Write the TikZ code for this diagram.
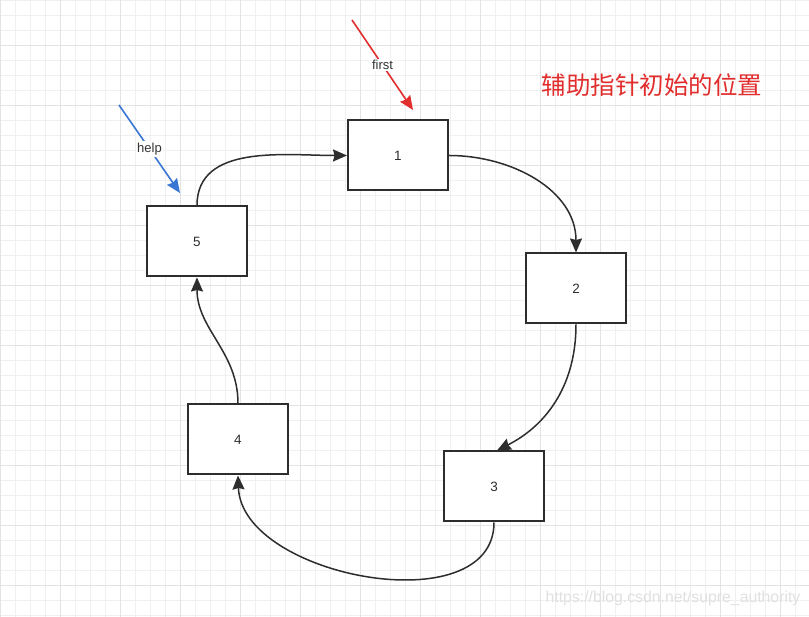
\documentclass[tikz,border=0pt]{standalone}
\usepackage{fontspec}
\setmainfont{Liberation Sans}
\newfontfamily\cjkfont{Noto Sans CJK SC}
\usetikzlibrary{arrows.meta}

\definecolor{ptrred}{RGB}{226,45,45}
\definecolor{ptrblue}{RGB}{58,118,212}
\definecolor{boxline}{RGB}{45,45,45}

\begin{document}
\begin{tikzpicture}[
	x=1pt, y=1pt,
	gridminor/.style={draw=black!6, line width=0.8pt},
	gridmajor/.style={draw=black!11, line width=0.8pt},
	block/.style={rectangle, draw=boxline, fill=white, line width=2pt, minimum width=100pt, minimum height=70pt, inner sep=0pt, font=\fontsize{13.5}{15}\selectfont, text=boxline},
	arrow/.style={-{Stealth[length=14pt, width=12pt, inset=1.5pt]}, line width=1.5pt, draw=boxline},
	pointer/.style={-{Stealth[length=14pt, width=12pt, inset=1.5pt]}, line width=1.6pt},
	ptrlabel/.style={fill=white, inner sep=1.5pt, font=\fontsize{13}{15}\selectfont, text=black!80}
]
	% Background grid
	\useasboundingbox (0,0) rectangle (809,617);
	\fill[white] (0,0) rectangle (809,617);
	\foreach \gx in {0,15,...,809} \draw[gridminor] (\gx,0) -- (\gx,617);
	\foreach \gy in {2,17,...,617} \draw[gridminor] (0,\gy) -- (809,\gy);
	\foreach \gx in {0,60,...,780} \draw[gridmajor] (\gx,0) -- (\gx,617);
	\foreach \gy in {32,92,...,572} \draw[gridmajor] (0,\gy) -- (809,\gy);

	% Ring nodes
	\node[block] (n1) at (398,461.5) {1};
	\node[block] (n2) at (576,328.5) {2};
	\node[block] (n3) at (494,130.5) {3};
	\node[block] (n4) at (238,177.5) {4};
	\node[block] (n5) at (197,375.5) {5};

	% Arrows
	\draw[arrow] (n1.east) to[out=0, in=90] (n2.north);
	\draw[arrow] (n2.south) to[out=-90, in=27] ([xshift=3pt]n3.north);
	\draw[arrow] (n3.south) to[out=-90, in=-88] (n4.south);
	\draw[arrow] (n4.north) to[out=90, in=-90] (n5.south);
	\draw[arrow] (n5.north) to[out=90, in=180] (n1.west);

	% Pointers
	\coordinate (firstTail) at (352,597);
	\coordinate (firstHead) at (413,507);
	\coordinate (helpTail) at (119,512);
	\coordinate (helpHead) at (180,424);
	\draw[pointer, draw=ptrred, fill=ptrred] (firstTail) -- node[ptrlabel] (firstLbl) {first} (firstHead);
	\draw[pointer, draw=ptrblue, fill=ptrblue] (helpTail) -- node[ptrlabel] (helpLbl) {help} (helpHead);

	% Labels
	\node[font=\cjkfont\fontsize{24.5}{28}\selectfont, text=ptrred] (title) at (652,532) {辅助指针初始的位置};
	\node[font=\fontsize{15.8}{18}\selectfont, text=black!12] (mark) at (673,19) {https://blog.csdn.net/supre\_authority};
\end{tikzpicture}
\end{document}
